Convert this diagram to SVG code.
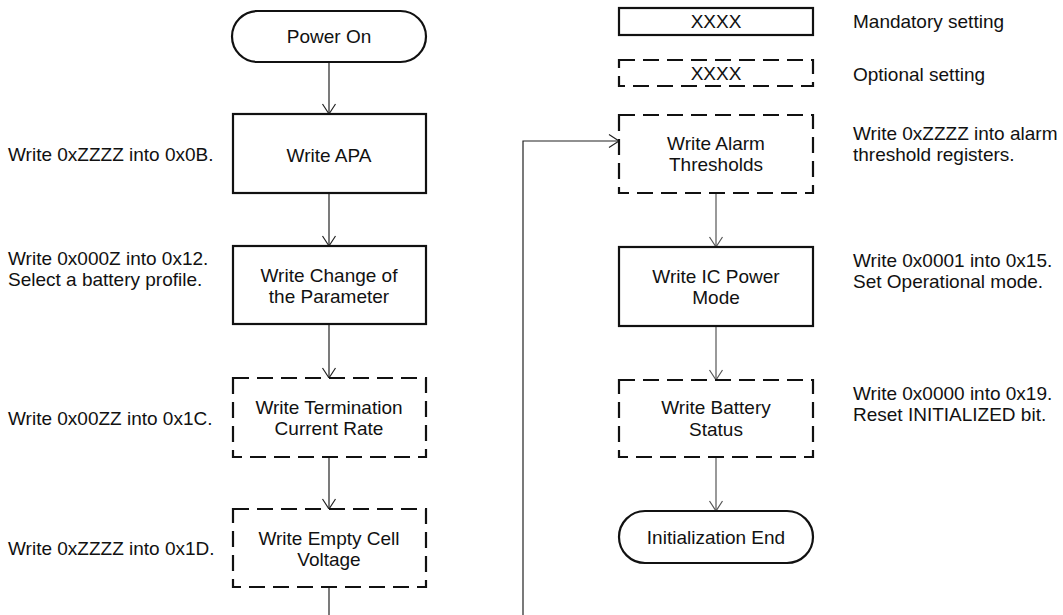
<svg xmlns="http://www.w3.org/2000/svg" width="1063" height="615" viewBox="0 0 1063 615">
<style>
text{font-family:"Liberation Sans",Arial,sans-serif;font-size:19px;fill:#111}
.c{text-anchor:middle}
.box{fill:#fff;stroke:#111;stroke-width:2.2}
.opt{stroke-dasharray:16 8}
.con{fill:none;stroke:#222;stroke-width:1.2}
.con2{fill:none;stroke:#555;stroke-width:1.2}
</style>
<defs>
<marker id="ah" markerUnits="userSpaceOnUse" markerWidth="14" markerHeight="16" viewBox="-12 -8 14 16" refX="0" refY="0" orient="auto">
<path d="M-10,-6.5 L0,0 L-10,6.5" fill="none" stroke="#222" stroke-width="1.2"/>
</marker>
<marker id="ah2" markerUnits="userSpaceOnUse" markerWidth="14" markerHeight="16" viewBox="-12 -8 14 16" refX="0" refY="0" orient="auto">
<path d="M-10,-6.5 L0,0 L-10,6.5" fill="none" stroke="#555" stroke-width="1.2"/>
</marker>
</defs>
<g id="connectors">
<line class="con" x1="329" y1="62" x2="329" y2="114" marker-end="url(#ah)"/>
<line class="con" x1="329" y1="193" x2="329" y2="246" marker-end="url(#ah)"/>
<line class="con" x1="329" y1="324" x2="329" y2="378" marker-end="url(#ah)"/>
<line class="con" x1="329" y1="457" x2="329" y2="509" marker-end="url(#ah)"/>
<line class="con" x1="329" y1="587" x2="329" y2="615"/>
<polyline class="con" points="523,615 523,141 619,141" marker-end="url(#ah)"/>
<line class="con2" x1="716" y1="193" x2="716" y2="247" marker-end="url(#ah2)"/>
<line class="con2" x1="716" y1="326" x2="716" y2="380" marker-end="url(#ah2)"/>
<line class="con2" x1="716" y1="457" x2="716" y2="511" marker-end="url(#ah2)"/>
</g>
<g id="power-on">
<rect class="box" x="232" y="11" width="194" height="51" rx="25.5" ry="25.5"/>
<text class="c" x="329" y="43">Power On</text>
</g>
<g id="write-apa">
<rect class="box" x="233" y="114" width="193" height="79"/>
<text class="c" x="329" y="162">Write APA</text>
<text x="8" y="161">Write 0xZZZZ into 0x0B.</text>
</g>
<g id="write-change">
<rect class="box" x="233" y="246" width="193" height="78"/>
<text class="c" x="329" y="282">Write Change of</text>
<text class="c" x="329" y="303">the Parameter</text>
<text x="8" y="265">Write 0x000Z into 0x12.</text>
<text x="8" y="286">Select a battery profile.</text>
</g>
<g id="write-termination">
<rect class="box opt" x="233" y="378" width="193" height="79"/>
<text class="c" x="329" y="414">Write Termination</text>
<text class="c" x="329" y="435">Current Rate</text>
<text x="8" y="425">Write 0x00ZZ into 0x1C.</text>
</g>
<g id="write-empty">
<rect class="box opt" x="233" y="509" width="193" height="78"/>
<text class="c" x="329" y="545">Write Empty Cell</text>
<text class="c" x="329" y="566">Voltage</text>
<text x="8" y="555">Write 0xZZZZ into 0x1D.</text>
</g>
<g id="legend-mandatory">
<rect class="box" x="619" y="8" width="194" height="27"/>
<text class="c" x="716" y="28">XXXX</text>
<text x="853" y="28">Mandatory setting</text>
</g>
<g id="legend-optional">
<rect class="box opt" x="619" y="60" width="194" height="26"/>
<text class="c" x="716" y="80">XXXX</text>
<text x="853" y="81">Optional setting</text>
</g>
<g id="write-alarm">
<rect class="box opt" x="619" y="115" width="194" height="78"/>
<text class="c" x="716" y="150">Write Alarm</text>
<text class="c" x="716" y="171">Thresholds</text>
<text x="853" y="140">Write 0xZZZZ into alarm</text>
<text x="853" y="161">threshold registers.</text>
</g>
<g id="write-ic-power">
<rect class="box" x="619" y="247" width="194" height="79"/>
<text class="c" x="716" y="283">Write IC Power</text>
<text class="c" x="716" y="304">Mode</text>
<text x="853" y="267">Write 0x0001 into 0x15.</text>
<text x="853" y="288">Set Operational mode.</text>
</g>
<g id="write-battery">
<rect class="box opt" x="619" y="380" width="194" height="77"/>
<text class="c" x="716" y="414">Write Battery</text>
<text class="c" x="716" y="436">Status</text>
<text x="853" y="400">Write 0x0000 into 0x19.</text>
<text x="853" y="421">Reset INITIALIZED bit.</text>
</g>
<g id="init-end">
<rect class="box" x="619" y="511" width="194" height="52" rx="26" ry="26"/>
<text class="c" x="716" y="544">Initialization End</text>
</g>
</svg>
